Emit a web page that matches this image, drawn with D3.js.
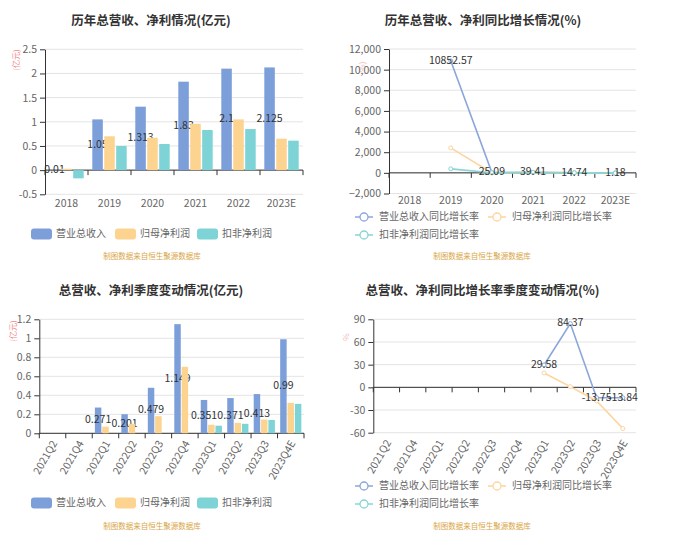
<!DOCTYPE html>
<html><head><meta charset="utf-8">
<script src="https://cdn.jsdelivr.net/npm/d3@7"></script>
<style>
body{margin:0;background:#fff}
svg{display:block}
</style>
</head><body><svg width="700" height="545"></svg>
<script>
// ---------- DATA ----------
const years = ["2018","2019","2020","2021","2022","2023E"];
const revenue = [0.0096, 1.05, 1.313, 1.83, 2.1, 2.125];
const revenueLabels = ["0.01","1.05","1.313","1.83","2.1","2.125"];
const netProfit = [0.028, 0.70, 0.67, 0.96, 1.05, 0.65];
const deductedProfit = [-0.17, 0.50, 0.54, 0.83, 0.85, 0.61];
const yearTicks = [-0.5, 0, 0.5, 1, 1.5, 2, 2.5];

const revenueGrowth = [null, 10852.57, 25.09, 39.41, 14.74, 1.18];
const netProfitGrowth = [null, 2420, -4, 43, 9, -38];
const deductedGrowth = [null, 390, 8, 54, 2, -28];
const growthTicks = [-2000, 0, 2000, 4000, 6000, 8000, 10000, 12000];

const quarters = ["2021Q2","2021Q4","2022Q1","2022Q2","2022Q3","2022Q4","2023Q1","2023Q2","2023Q3","2023Q4E"];
const qRevenue = [null, null, 0.271, 0.201, 0.479, 1.149, 0.351, 0.371, 0.413, 0.99];
const qRevenueLabels = [null, null, "0.271", "0.201", "0.479", "1.149", "0.351", "0.371", "0.413", "0.99"];
const qNetProfit = [null, null, 0.07, 0.10, 0.18, 0.70, 0.09, 0.11, 0.145, 0.32];
const qDeducted = [null, null, null, null, null, null, 0.08, 0.10, 0.14, 0.31];
const quarterTicks = [0, 0.2, 0.4, 0.6, 0.8, 1, 1.2];

const qRevenueGrowth = [null, null, null, null, null, null, 29.58, 84.37, -13.75, -13.84];
const qNetProfitGrowth = [null, null, null, null, null, null, 19, 1, -18, -54.5];
const qDeductedGrowth = [null, null, null, null, null, null, null, null, null, null];
const qGrowthTicks = [-60, -30, 0, 30, 60, 90];

const barSeriesNames = ["营业总收入", "归母净利润", "扣非净利润"];
const lineSeriesNames = ["营业总收入同比增长率", "归母净利润同比增长率", "扣非净利润同比增长率"];
const sourceNote = "制图数据来自恒生聚源数据库";

// ---------- STYLE ----------
const FONT = '"Noto Sans CJK SC","Noto Sans",sans-serif';
const BAR = ["#7c9fda", "#fdd390", "#7dd3d5"];
const LINE = ["#8ba7da", "#fcd59e", "#86d5d7"];
const svg = d3.select("svg").attr("font-family", FONT);

function frame(cfg) {
  const g = svg.append("g");
  const x = d3.scaleBand().domain(cfg.cats).range([cfg.left, cfg.right]);
  const y = d3.scaleLinear().domain(cfg.domain).range([cfg.bottom, cfg.top]);
  // title
  g.append("text").attr("x", cfg.titleX).attr("y", cfg.titleY)
    .attr("text-anchor", "middle").attr("dominant-baseline", "middle")
    .attr("font-size", "12.5px").attr("font-weight", "bold").attr("fill", "#333")
    .text(cfg.title);
  // unit
  g.append("text").attr("transform", `translate(${cfg.unitX},${cfg.unitY}) rotate(-90)`)
    .attr("text-anchor", "middle").attr("dominant-baseline", "middle")
    .attr("font-size", "8px").attr("fill", "#f08a8a").attr("opacity", cfg.unitOpacity || 1)
    .text(cfg.unit);
  // grid
  g.append("g").selectAll("line").data(cfg.ticks).join("line")
    .attr("x1", cfg.left).attr("x2", cfg.right)
    .attr("y1", d => y(d)).attr("y2", d => y(d))
    .attr("stroke", "#e4e4e4").attr("stroke-width", 1);
  // y axis
  const ya = g.append("g").attr("transform", `translate(${cfg.left},0)`)
    .call(d3.axisLeft(y).tickValues(cfg.ticks).tickFormat(cfg.fmt).tickSize(5).tickSizeOuter(0).tickPadding(3));
  ya.attr("font-family", FONT).attr("font-size", null);
  ya.select(".domain").attr("stroke", "#333");
  ya.selectAll(".tick line").attr("stroke", "#333");
  ya.selectAll(".tick text").attr("fill", "#666").style("font-size", "10.5px");
  // x axis line at zero
  const y0 = y(0);
  g.append("line").attr("x1", cfg.left).attr("x2", cfg.right).attr("y1", y0).attr("y2", y0)
    .attr("stroke", "#333");
  const bounds = cfg.cats.map(c => x(c)).concat([x.range()[1]]);
  g.append("g").selectAll("line").data(bounds).join("line")
    .attr("x1", d => d).attr("x2", d => d).attr("y1", y0).attr("y2", y0 + 5)
    .attr("stroke", "#333");
  // x labels
  const xa = g.append("g").attr("transform", `translate(0,${cfg.bottom})`)
    .call(d3.axisBottom(x).tickSize(0).tickPadding(cfg.xPad != null ? cfg.xPad : 5));
  xa.attr("font-family", FONT).attr("font-size", null);
  xa.select(".domain").remove();
  xa.selectAll(".tick text").attr("fill", "#666").style("font-size", "10.5px");
  if (cfg.rotate) {
    xa.selectAll(".tick text")
      .attr("y", 0).attr("dy", "0.35em").attr("x", 0)
      .attr("text-anchor", "end")
      .attr("transform", `translate(2,8) rotate(-60)`);
  }
  // watermark
  g.append("text").attr("x", cfg.noteX).attr("y", cfg.noteY)
    .attr("text-anchor", "middle").attr("dominant-baseline", "middle")
    .attr("font-size", "7.5px").attr("fill", "#d9a545").text(sourceNote);
  return {g, x, y};
}

function barChart(cfg, series, labels) {
  const {g, x, y} = frame(cfg);
  const bw = x.bandwidth();
  const inner = d3.scaleBand().domain(d3.range(series.length))
    .range([bw * 0.1, bw * 0.9]).paddingInner(0.12);
  series.forEach((vals, si) => {
    const data = vals.map((v, i) => ({c: cfg.cats[i], v})).filter(d => d.v != null);
    g.append("g").selectAll("rect").data(data).join("rect")
      .attr("x", d => x(d.c) + inner(si))
      .attr("width", inner.bandwidth())
      .attr("y", d => Math.min(y(d.v), y(0)))
      .attr("height", d => Math.abs(y(d.v) - y(0)))
      .attr("fill", BAR[si]);
    if (si === 0) {
      const ld = vals.map((v, i) => ({c: cfg.cats[i], v, t: labels[i]})).filter(d => d.v != null);
      g.append("g").selectAll("text").data(ld).join("text")
        .attr("x", d => x(d.c) + inner(0) + inner.bandwidth() / 2)
        .attr("y", d => (y(d.v) + y(0)) / 2)
        .attr("text-anchor", "middle").attr("dominant-baseline", "middle")
        .attr("font-size", "10.5px").attr("fill", "#333").text(d => d.t);
    }
  });
  // legend
  const lx = [31, 115, 197];
  barSeriesNames.forEach((n, i) => {
    g.append("rect").attr("x", lx[i]).attr("y", cfg.legendY - 5.5).attr("width", 21).attr("height", 11)
      .attr("rx", 3).attr("fill", BAR[i]);
    g.append("text").attr("x", lx[i] + 25).attr("y", cfg.legendY).attr("dominant-baseline", "middle")
      .attr("font-size", "10px").attr("fill", "#666").text(n);
  });
}

function lineChart(cfg, series, labelFmt) {
  const {g, x, y} = frame(cfg);
  const bw = x.bandwidth();
  series.forEach((vals, si) => {
    const data = vals.map((v, i) => ({c: cfg.cats[i], v})).filter(d => d.v != null);
    if (!data.length) return;
    const line = d3.line().x(d => x(d.c) + bw / 2).y(d => y(d.v));
    g.append("path").datum(data).attr("d", line).attr("fill", "none")
      .attr("stroke", LINE[si]).attr("stroke-width", 1.6);
    g.append("g").selectAll("circle").data(data).join("circle")
      .attr("cx", d => x(d.c) + bw / 2).attr("cy", d => y(d.v)).attr("r", 2)
      .attr("fill", "#fff").attr("stroke", LINE[si]).attr("stroke-width", 1);
  });
  const ld = series[0].map((v, i) => ({c: cfg.cats[i], v})).filter(d => d.v != null);
  g.append("g").selectAll("text").data(ld).join("text")
    .attr("x", d => x(d.c) + bw / 2).attr("y", d => y(d.v))
    .attr("text-anchor", "middle").attr("dominant-baseline", "middle")
    .attr("font-size", "10.5px").attr("fill", "#333").text(d => labelFmt(d.v));
  // legend
  const pos = [[355, cfg.legendY1], [488, cfg.legendY1], [355, cfg.legendY2]];
  lineSeriesNames.forEach((n, i) => {
    const [lx, ly] = pos[i];
    g.append("line").attr("x1", lx).attr("x2", lx + 18).attr("y1", ly).attr("y2", ly)
      .attr("stroke", LINE[i]).attr("stroke-width", 1.5);
    g.append("circle").attr("cx", lx + 9).attr("cy", ly).attr("r", 4)
      .attr("fill", "#fff").attr("stroke", LINE[i]).attr("stroke-width", 1.3);
    g.append("text").attr("x", lx + 24).attr("y", ly).attr("dominant-baseline", "middle")
      .attr("font-size", "10px").attr("fill", "#666").text(n);
  });
}

const fmtPlain = d => String(d);
const fmtComma = d3.format(",");

barChart({
  cats: years, left: 45, right: 303, top: 49.3, bottom: 194.3, domain: [-0.5, 2.5], ticks: yearTicks,
  fmt: fmtPlain, title: "历年总营收、净利情况(亿元)", titleX: 151, titleY: 22,
  unit: "(亿元)", unitX: 16.5, unitY: 60, legendY: 234, noteX: 152, noteY: 257
}, [revenue, netProfit, deductedProfit], revenueLabels);

lineChart({
  cats: years, left: 389, right: 636, top: 49, bottom: 193.5, domain: [-2000, 12000], ticks: growthTicks,
  fmt: fmtComma, title: "历年总营收、净利同比增长情况(%)", titleX: 483, titleY: 22, xPad: 3,
  unit: "(%)", unitX: 363, unitY: 68, unitOpacity: 0.6, legendY1: 217, legendY2: 235, noteX: 482, noteY: 257
}, [revenueGrowth, netProfitGrowth, deductedGrowth], v => String(v));

barChart({
  cats: quarters, left: 39.3, right: 304, top: 319.3, bottom: 433.3, domain: [0, 1.2], ticks: quarterTicks,
  fmt: fmtPlain, title: "总营收、净利季度变动情况(亿元)", titleX: 151, titleY: 292, rotate: true,
  unit: "(亿元)", unitX: 14, unitY: 331, legendY: 503, noteX: 152, noteY: 527
}, [qRevenue, qNetProfit, qDeducted], qRevenueLabels);

lineChart({
  cats: quarters, left: 373.3, right: 636, top: 319.3, bottom: 432.7, domain: [-60, 90], ticks: qGrowthTicks,
  fmt: fmtPlain, title: "总营收、净利同比增长率季度变动情况(%)", titleX: 482.5, titleY: 292, rotate: true,
  unit: "%", unitX: 347, unitY: 337, unitOpacity: 0.6, legendY1: 486, legendY2: 504, noteX: 482, noteY: 527
}, [qRevenueGrowth, qNetProfitGrowth, qDeductedGrowth], v => String(v));
</script>
</body></html>
